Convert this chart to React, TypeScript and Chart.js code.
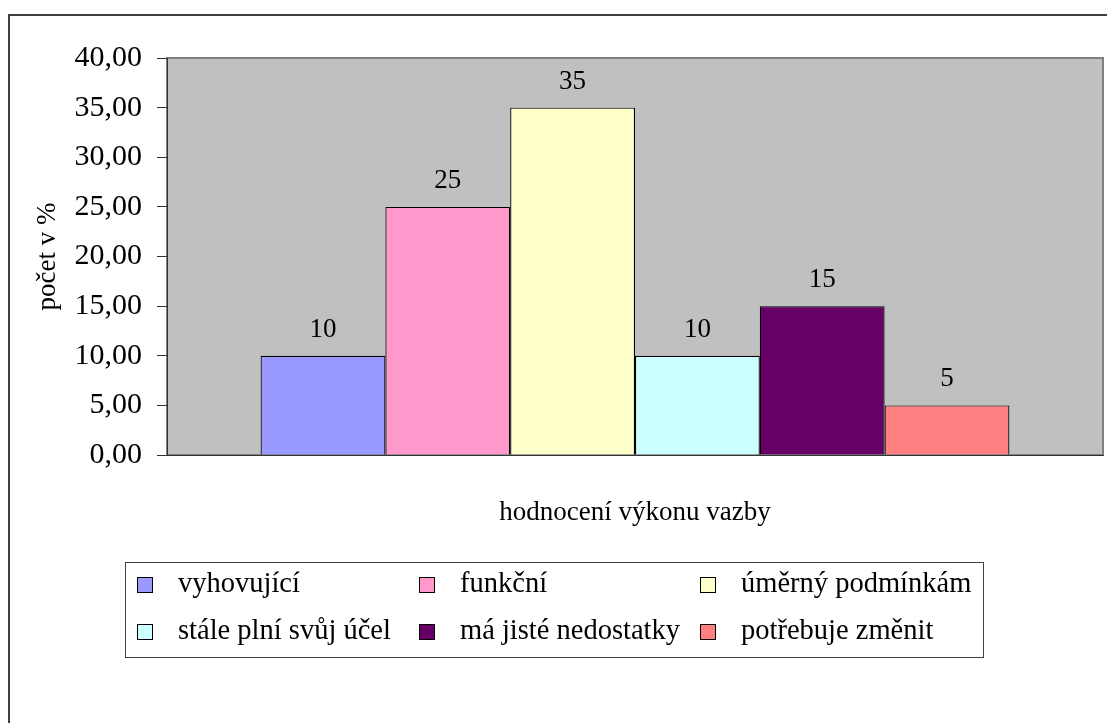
import React, { useEffect, useRef } from "react";
import { Chart, registerables } from "chart.js";

Chart.register(...registerables);

const seriesNames = [
  "vyhovující",
  "funkční",
  "úměrný podmínkám",
  "stále plní svůj účel",
  "má jisté nedostatky",
  "potřebuje změnit",
];
const seriesValues = [10, 25, 35, 10, 15, 5];
const seriesColors = ["#9999FF", "#FF99CC", "#FFFFCC", "#CCFFFF", "#660066", "#FF8080"];
const categories = [""];
const yTicks = [0, 5, 10, 15, 20, 25, 30, 35, 40];
const yTitle = "počet v %";
const xTitle = "hodnocení výkonu vazby";

const FONT = "'Liberation Serif', 'Times New Roman', serif";

const plotBgPlugin = {
  id: "plotBg",
  beforeDraw(chart: any) {
    const { ctx, chartArea: a } = chart;
    ctx.save();
    ctx.fillStyle = "#C0C0C0";
    ctx.fillRect(a.left, a.top, a.right - a.left, a.bottom - a.top);
    ctx.strokeStyle = "#808080";
    ctx.lineWidth = 2;
    ctx.strokeRect(a.left, a.top, a.right - a.left, a.bottom - a.top);
    ctx.restore();
  },
};

const valueLabelPlugin = {
  id: "valueLabels",
  afterDatasetsDraw(chart: any) {
    const { ctx } = chart;
    ctx.save();
    ctx.font = `27px ${FONT}`;
    ctx.fillStyle = "#000";
    ctx.textAlign = "center";
    ctx.textBaseline = "alphabetic";
    chart.data.datasets.forEach((ds: any, i: number) => {
      const meta = chart.getDatasetMeta(i);
      meta.data.forEach((el: any, j: number) => {
        ctx.fillText(String(ds.data[j]), el.x, el.y - 19);
      });
    });
    ctx.restore();
  },
};

const legendPlugin = {
  id: "boxLegend",
  afterDraw(chart: any) {
    const { ctx } = chart;
    ctx.save();
    ctx.strokeStyle = "#404040";
    ctx.lineWidth = 1;
    ctx.strokeRect(125.5, 562.5, 858, 95);
    const colX = [137, 419, 700];
    const rowY = [585, 632];
    ctx.font = `28.5px ${FONT}`;
    ctx.textBaseline = "middle";
    ctx.textAlign = "left";
    chart.data.datasets.forEach((ds: any, i: number) => {
      const c = i % 3;
      const r = Math.floor(i / 3);
      const x = colX[c];
      const y = rowY[r];
      ctx.fillStyle = ds.backgroundColor;
      ctx.fillRect(x, y - 8, 16, 16);
      ctx.strokeStyle = "#000";
      ctx.lineWidth = 1;
      ctx.strokeRect(x + 0.5, y - 7.5, 15, 15);
      ctx.fillStyle = "#000";
      ctx.fillText(ds.label, x + 41, y);
    });
    ctx.restore();
  },
};

export default function App() {
  const ref = useRef<HTMLCanvasElement>(null);
  useEffect(() => {
    if (!ref.current) return;
    const chart = new Chart(ref.current, {
      type: "bar",
      data: {
        labels: categories,
        datasets: seriesNames.map((name, i) => ({
          label: name,
          data: [seriesValues[i]],
          backgroundColor: seriesColors[i],
          borderColor: "#000",
          borderWidth: 1.2,
          categoryPercentage: 0.8,
          barPercentage: 1.0,
        })),
      },
      options: {
        responsive: false,
        animation: false,
        devicePixelRatio: 1,
        layout: { padding: { left: 0, right: 4, top: 58, bottom: 188 } },
        plugins: {
          legend: { display: false },
          tooltip: { enabled: false },
          title: { display: false },
        },
        font: { family: FONT },
        scales: {
          x: {
            ticks: { display: false },
            grid: { display: false },
            border: { display: true, color: "#333", width: 1 },
            title: {
              display: true,
              text: xTitle,
              color: "#000",
              font: { family: FONT, size: 27 },
              padding: { top: 0, bottom: 6 },
            },
            afterFit: (s: any) => {
              s.height = 80;
            },
          },
          y: {
            min: yTicks[0],
            max: yTicks[yTicks.length - 1],
            afterBuildTicks: (s: any) => {
              s.ticks = yTicks.map((v) => ({ value: v }));
            },
            ticks: {
              color: "#000",
              font: { family: FONT, size: 30 },
              padding: 15,
              callback: (v: any) => Number(v).toFixed(2).replace(".", ","),
            },
            grid: {
              drawOnChartArea: false,
              drawTicks: true,
              tickLength: 10,
              color: "#333",
              lineWidth: 1,
            },
            border: { display: true, color: "#333", width: 1 },
            title: {
              display: true,
              text: yTitle,
              color: "#000",
              font: { family: FONT, size: 27 },
              padding: { top: 32, bottom: 0 },
            },
            afterFit: (s: any) => {
              s.width = 167;
            },
          },
        },
      },
      plugins: [plotBgPlugin, valueLabelPlugin, legendPlugin],
    });
    return () => chart.destroy();
  }, []);

  return (
    <div
      style={{
        position: "fixed",
        left: 0,
        top: 0,
        width: 1107,
        height: 723,
        background: "#fff",
        overflow: "hidden",
      }}
    >
      <div
        style={{
          position: "absolute",
          left: 8,
          top: 14,
          width: 1200,
          height: 800,
          border: "2px solid #404040",
          boxSizing: "border-box",
        }}
      />
      <canvas
        ref={ref}
        width={1107}
        height={723}
        style={{ position: "absolute", left: 0, top: 0, width: 1107, height: 723 }}
      />
    </div>
  );
}
